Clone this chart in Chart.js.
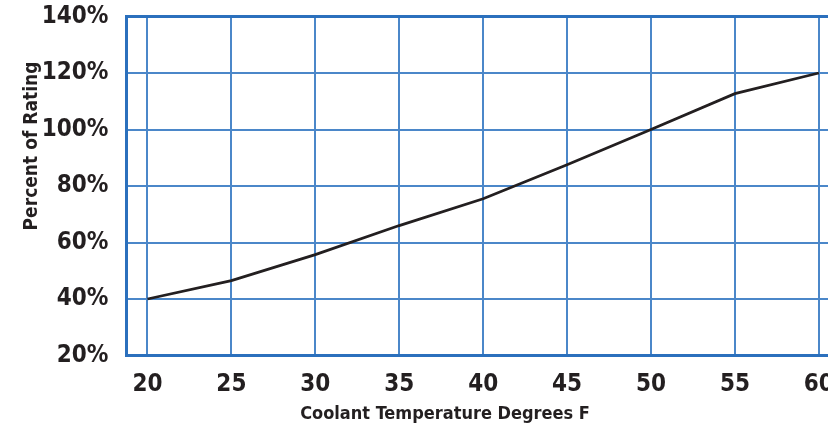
<!DOCTYPE html>
<html>
<head>
<meta charset="utf-8">
<script src="https://cdn.jsdelivr.net/npm/chart.js@4.4.0/dist/chart.umd.min.js"></script>
<style>
  html, body { margin: 0; padding: 0; background: #ffffff; overflow: hidden; }
  #wrap { position: relative; width: 860px; height: 429px; }
</style>
</head>
<body>
<div id="wrap"><canvas id="c"></canvas></div>
<script>
// ---- Data ----
const coolantTemps = [20, 25, 30, 35, 40, 45, 50, 55, 60];
const percentOfRating = [40, 46.5, 55.7, 66, 75.5, 87.5, 100, 112.7, 120];
const xTickValues = [20, 25, 30, 35, 40, 45, 50, 55, 60];
const yTickValues = [20, 40, 60, 80, 100, 120, 140];
const xTitle = 'Coolant Temperature Degrees F';
const yTitle = 'Percent of Rating';

const FONT = '"Liberation Sans Narrow", "DejaVu Sans Condensed", "Arial Narrow", sans-serif';
const TEXT = '#231f20';
const BORDER = '#2b70bd';
const GRID = '#4b87c9';

const titlesPlugin = {
  id: 'titles',
  afterDraw(chart) {
    const ctx = chart.ctx;
    ctx.save();
    ctx.fillStyle = TEXT;
    ctx.font = 'bold 18px ' + FONT;
    ctx.textAlign = 'center';
    ctx.textBaseline = 'middle';
    ctx.fillText(xTitle, 445, 414);
    ctx.translate(32, 146);
    ctx.rotate(-Math.PI / 2);
    ctx.font = 'bold 19px ' + FONT;
    ctx.fillText(yTitle, 0, 0);
    ctx.restore();
  }
};

const topBorderPlugin = {
  id: 'topBorder',
  afterDatasetsDraw(chart) {
    const a = chart.chartArea;
    const ctx = chart.ctx;
    ctx.save();
    ctx.strokeStyle = BORDER;
    ctx.lineWidth = 3;
    ctx.beginPath();
    ctx.moveTo(a.left - 1.5, a.top);
    ctx.lineTo(a.right, a.top);
    ctx.stroke();
    ctx.restore();
  }
};

new Chart(document.getElementById('c'), {
  type: 'line',
  data: {
    datasets: [{
      data: coolantTemps.map((t, i) => ({ x: t, y: percentOfRating[i] })),
      borderColor: '#231f20',
      borderWidth: 2.8,
      pointRadius: 0,
      tension: 0,
      fill: false
    }]
  },
  options: {
    responsive: true,
    maintainAspectRatio: false,
    animation: false,
    layout: { padding: { top: 0, right: 16, left: 0, bottom: 0 } },
    plugins: { legend: { display: false }, tooltip: { enabled: false } },
    scales: {
      x: {
        type: 'linear',
        min: 18.75,
        max: 61.5,
        afterBuildTicks: s => { s.ticks = xTickValues.map(v => ({ value: v })); },
        afterFit: s => { s.height = 73.5; s.paddingLeft = 0; s.paddingRight = 0; },
        grid: { color: GRID, lineWidth: 2, drawTicks: false },
        border: { display: true, color: BORDER, width: 3 },
        ticks: {
          color: TEXT,
          padding: 13,
          maxRotation: 0,
          autoSkip: false,
          font: { family: FONT, size: 24, weight: 'bold', lineHeight: 1.375 },
          callback: v => String(v)
        }
      },
      y: {
        type: 'linear',
        min: 20,
        max: 140,
        afterBuildTicks: s => { s.ticks = yTickValues.map(v => ({ value: v })); },
        afterFit: s => { s.width = 126.5; s.paddingTop = 16.5; s.paddingBottom = 0; },
        grid: { color: GRID, lineWidth: 2, drawTicks: false },
        border: { display: true, color: BORDER, width: 3 },
        ticks: {
          color: TEXT,
          padding: 18,
          font: { family: FONT, size: 24, weight: 'bold', lineHeight: 1.375 },
          callback: v => v + '%'
        }
      }
    }
  },
  plugins: [titlesPlugin, topBorderPlugin]
});
</script>
</body>
</html>
